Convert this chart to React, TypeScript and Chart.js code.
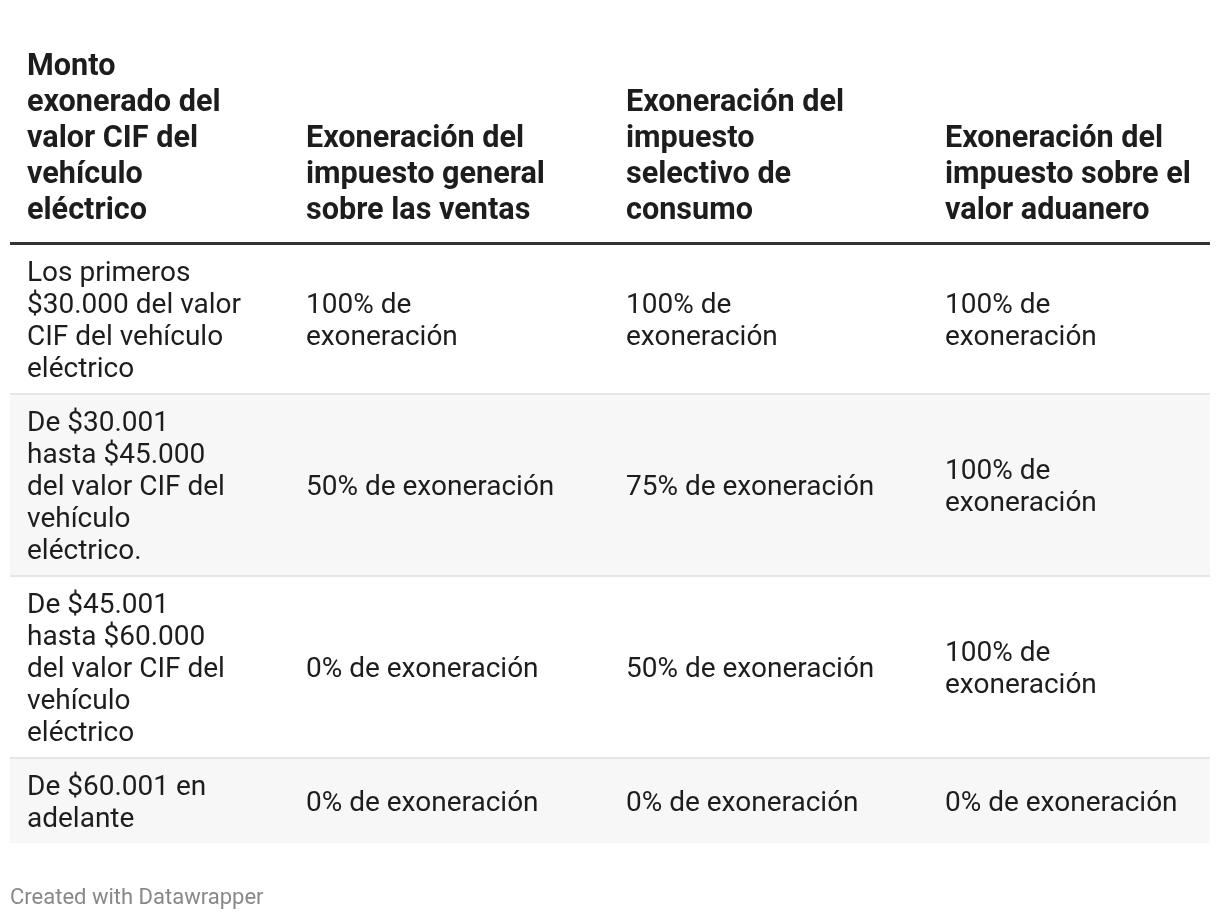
import React, { useEffect, useRef } from "react";
import { Chart, registerables } from "chart.js";

Chart.register(...registerables);

// ---- Data ----
const HEADERS = [
  "Monto\nexonerado del\nvalor CIF del\nvehículo\neléctrico",
  "Exoneración del\nimpuesto general\nsobre las ventas",
  "Exoneración del\nimpuesto\nselectivo de\nconsumo",
  "Exoneración del\nimpuesto sobre el\nvalor aduanero",
];
const ROW_LABELS = [
  "Los primeros\n$30.000 del valor\nCIF del vehículo\neléctrico",
  "De $30.001\nhasta $45.000\ndel valor CIF del\nvehículo\neléctrico.",
  "De $45.001\nhasta $60.000\ndel valor CIF del\nvehículo\neléctrico",
  "De $60.001 en\nadelante",
];
const IMPUESTO_GENERAL = [
  "100% de\nexoneración",
  "50% de exoneración",
  "0% de exoneración",
  "0% de exoneración",
];
const IMPUESTO_SELECTIVO = [
  "100% de\nexoneración",
  "75% de exoneración",
  "50% de exoneración",
  "0% de exoneración",
];
const IMPUESTO_ADUANERO = [
  "100% de\nexoneración",
  "100% de\nexoneración",
  "100% de\nexoneración",
  "0% de exoneración",
];
const FOOTER = "Created with Datawrapper";

// ---- Layout / style ----
const W = 1204;
const H = 904;
const TABLE_W = 1200;
const COL_STARTS = [0, 279, 599, 918];
const CELL_PAD_X = 17;
const FONT = "Roboto, 'Noto Sans', sans-serif";
const BODY_SIZE = 28;
const HEAD_SIZE = 30.6;
const BODY_LINE = 32;
const HEAD_LINE = 36;
const HEAD_LAST_CENTER = 200;
const TEXT_DY = 3;
const RULE_TOP = 234;
const RULE_W = 3;
const ROW_PAD = 10;
const SEP_W = 2;
const TEXT_COLOR = "#1d1d1d";
const RULE_COLOR = "#333333";
const SEP_COLOR = "#e6e6e6";
const STRIPE = "#f7f7f7";
const FOOTER_COLOR = "#888888";
const FOOTER_SIZE = 22;
const FOOTER_CENTER = 888;

const COLUMNS = [ROW_LABELS, IMPUESTO_GENERAL, IMPUESTO_SELECTIVO, IMPUESTO_ADUANERO];

function computeRows() {
  const rows: { start: number; end: number; lines: number }[] = [];
  let y = RULE_TOP + RULE_W;
  for (let r = 0; r < ROW_LABELS.length; r++) {
    const lines = Math.max(...COLUMNS.map((col) => col[r].split("\n").length));
    const last = r === ROW_LABELS.length - 1;
    const h = lines * BODY_LINE + ROW_PAD * 2 + (last ? 0 : SEP_W);
    rows.push({ start: y, end: y + h, lines });
    y += h;
  }
  return rows;
}

export default function App() {
  const ref = useRef<HTMLCanvasElement | null>(null);

  useEffect(() => {
    const canvas = ref.current;
    if (!canvas) return;
    const rows = computeRows();

    const tablePlugin = {
      id: "tablePlugin",
      afterDatasetsDraw(chart: any) {
        const ctx = chart.ctx as CanvasRenderingContext2D;
        const xs = chart.scales.xCols;
        const ys = chart.scales.y;
        const left = xs.getPixelForValue(0);
        const right = xs.getPixelForValue(TABLE_W);
        ctx.save();

        // header rule
        ctx.fillStyle = RULE_COLOR;
        const rt = ys.getPixelForValue(RULE_TOP);
        const rb = ys.getPixelForValue(RULE_TOP + RULE_W);
        ctx.fillRect(left, rt, right - left, rb - rt);

        // row separators
        ctx.fillStyle = SEP_COLOR;
        rows.forEach((row, i) => {
          if (i === rows.length - 1) return;
          const a = ys.getPixelForValue(row.end - SEP_W);
          const b = ys.getPixelForValue(row.end);
          ctx.fillRect(left, a, right - left, b - a);
        });

        ctx.textAlign = "left";
        ctx.textBaseline = "middle";
        ctx.fillStyle = TEXT_COLOR;

        // headers (bottom aligned)
        ctx.font = `bold ${HEAD_SIZE}px ${FONT}`;
        HEADERS.forEach((h, c) => {
          const lines = h.split("\n");
          const x = xs.getPixelForValue(COL_STARTS[c]) + CELL_PAD_X;
          lines.forEach((ln, i) => {
            const yc = HEAD_LAST_CENTER - (lines.length - 1 - i) * HEAD_LINE + TEXT_DY;
            ctx.fillText(ln, x, ys.getPixelForValue(yc));
          });
        });

        // body cells (vertically centered)
        ctx.font = `${BODY_SIZE}px ${FONT}`;
        rows.forEach((row, r) => {
          const content = row.end - (r === rows.length - 1 ? 0 : SEP_W);
          const center = (row.start + content) / 2;
          COLUMNS.forEach((col, c) => {
            const lines = col[r].split("\n");
            const x = xs.getPixelForValue(COL_STARTS[c]) + CELL_PAD_X;
            lines.forEach((ln, i) => {
              const yc = center + (i - (lines.length - 1) / 2) * BODY_LINE + TEXT_DY;
              ctx.fillText(ln, x, ys.getPixelForValue(yc));
            });
          });
        });

        // footer
        ctx.font = `${FOOTER_SIZE}px ${FONT}`;
        ctx.fillStyle = FOOTER_COLOR;
        ctx.fillText(FOOTER, left, ys.getPixelForValue(FOOTER_CENTER + 2));
        ctx.restore();
      },
    };

    const chart = new Chart(canvas, {
      type: "bar",
      data: {
        labels: ["tabla"],
        datasets: rows.map((row, i) => ({
          label: `fila ${i + 1}`,
          data: [[row.start, row.end]] as any,
          backgroundColor: i % 2 === 1 ? STRIPE : "rgba(255,255,255,0)",
          borderWidth: 0,
          grouped: false,
          barPercentage: 1,
          categoryPercentage: 1,
          xAxisID: "x",
          yAxisID: "y",
        })),
      },
      options: {
        animation: false,
        responsive: false,
        maintainAspectRatio: false,
        devicePixelRatio: 1,
        layout: { padding: { left: 2, right: 2, top: 0, bottom: 0 } },
        plugins: { legend: { display: false }, tooltip: { enabled: false } },
        scales: {
          x: { type: "category", display: false, offset: true, grid: { display: false } },
          xCols: {
            type: "linear",
            display: false,
            min: 0,
            max: TABLE_W,
            axis: "x",
            offset: false,
            grace: 0,
            bounds: "ticks",
          } as any,
          y: { type: "linear", display: false, min: 0, max: H, reverse: true, offset: false },
        },
      },
      plugins: [tablePlugin],
    });
    return () => chart.destroy();
  }, []);

  return (
    <div style={{ width: W, height: H }}>
      <canvas ref={ref} width={W} height={H} style={{ display: "block", width: W, height: H }} />
    </div>
  );
}
